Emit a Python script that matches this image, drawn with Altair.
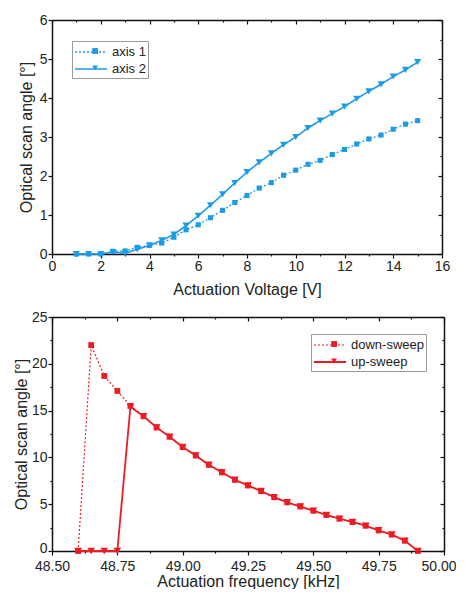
import altair as alt
import pandas as pd

# ---------------- data ----------------
voltage = [1, 1.5, 2, 2.5, 3, 3.5, 4, 4.5, 5, 5.5, 6, 6.5, 7, 7.5, 8, 8.5, 9, 9.5,
           10, 10.5, 11, 11.5, 12, 12.5, 13, 13.5, 14, 14.5, 15]
axis1 = [0.0, 0.0, 0.0, 0.07, 0.08, 0.17, 0.22, 0.28, 0.43, 0.62, 0.75, 0.93, 1.12,
         1.32, 1.50, 1.69, 1.83, 2.02, 2.15, 2.30, 2.40, 2.55, 2.68, 2.82, 2.95,
         3.05, 3.20, 3.33, 3.42]
axis2 = [0.0, 0.0, 0.0, 0.05, 0.02, 0.12, 0.22, 0.35, 0.50, 0.73, 0.98, 1.25, 1.53,
         1.82, 2.10, 2.35, 2.58, 2.80, 3.00, 3.23, 3.42, 3.60, 3.78, 3.98, 4.17,
         4.35, 4.55, 4.72, 4.92]

freq_down = [48.60, 48.65, 48.70, 48.75, 48.80, 48.85, 48.90, 48.95, 49.00, 49.05,
             49.10, 49.15, 49.20, 49.25, 49.30, 49.35, 49.40, 49.45, 49.50, 49.55,
             49.60, 49.65, 49.70, 49.75, 49.80, 49.85, 49.90]
down_sweep = [0.0, 22.0, 18.7, 17.1, 15.5, 14.4, 13.2, 12.2, 11.1, 10.2, 9.2, 8.4,
              7.6, 7.0, 6.4, 5.75, 5.2, 4.75, 4.3, 3.85, 3.45, 3.1, 2.7, 2.2, 1.75,
              1.1, 0.0]
freq_up = [48.60, 48.65, 48.70, 48.75, 48.80, 48.85, 48.90, 48.95, 49.00, 49.05,
           49.10, 49.15, 49.20, 49.25, 49.30, 49.35, 49.40, 49.45, 49.50, 49.55,
           49.60, 49.65, 49.70, 49.75, 49.80, 49.85, 49.90]
up_sweep = [0.0, 0.0, 0.0, 0.0, 15.4, 14.4, 13.2, 12.2, 11.1, 10.2, 9.2, 8.4,
            7.6, 7.0, 6.4, 5.75, 5.2, 4.75, 4.3, 3.85, 3.45, 3.1, 2.7, 2.2, 1.75,
            1.1, 0.0]

top_series = ["axis 1", "axis 2"]
bot_series = ["down-sweep", "up-sweep"]

x1_ticks = [float(v) for v in range(0, 17)]
y1_ticks = [v * 0.5 for v in range(0, 13)]
x2_ticks = [48.5 + v * 0.125 for v in range(0, 13)]
y2_ticks = [v * 2.5 for v in range(0, 11)]

BLUE = "#1d9be6"
RED = "#ec1c24"
FONT = "Liberation Sans"


def make_df(xs_a, ys_a, xs_b, ys_b, names, xfield, msizes):
    df = pd.DataFrame({
        xfield: xs_a + xs_b,
        "angle": ys_a + ys_b,
        "series": [names[0]] * len(xs_a) + [names[1]] * len(xs_b),
    })
    df["marker"] = df["series"]
    df["msize"] = [msizes[0]] * len(xs_a) + [msizes[1]] * len(xs_b)
    return df


df1 = make_df(voltage, axis1, voltage, axis2, top_series, "voltage", [26, 50])
df2 = make_df(freq_down, down_sweep, freq_up, up_sweep, bot_series, "freq", [34, 58])


def major_minor(step):
    return f"abs(datum.value / {step} - round(datum.value / {step})) < 1e-6"


def axis_main(orient, title, ticks, step, fmt, title_pad, label_pad=1, last=None,
              zero_shift=0):
    extra = {}
    if last is not None:
        extra = dict(
            labelAlign={"condition": {"test": f"datum.value >= {last}", "value": "right"},
                        "value": "center"},
            labelOffset={"condition": {"test": f"datum.value >= {last}", "value": 12},
                         "value": 0},
        )
    elif zero_shift:
        extra = dict(
            labelOffset={"condition": {"test": "datum.value == 0", "value": zero_shift},
                         "value": 0},
        )
    return alt.Axis(
        orient=orient, title=title, values=ticks, format=fmt,
        labelExpr=f"{major_minor(step)} ? datum.label : ''",
        tickSize={"condition": {"test": major_minor(step), "value": 4}, "value": 2},
        tickColor="#111", tickWidth=1.2, domainColor="#111", domainWidth=1.5,
        labelFont=FONT, labelFontSize=14, labelColor="#222", labelPadding=label_pad,
        titleFont=FONT, titleFontSize=16, titleFontWeight="normal",
        titleColor="#222", titlePadding=title_pad, grid=False, labelFlush=False,
        labelOverlap=False, **extra,
    )


def axis_mirror(orient, ticks, step):
    return alt.Axis(
        orient=orient, title=None, values=ticks, labels=False,
        tickSize={"expr": f"{major_minor(step)} ? -4 : -2"},
        tickColor="#111", tickWidth=1.2, domainColor="#111", domainWidth=1.5,
        grid=False,
    )


def panel(df, xfield, xdomain, xticks, xstep, xfmt, xtitle, xpad, xlabpad, xlast,
          ydomain, yticks, ystep, ypad, yzero, color, line_w, legend_xy, label_size,
          w, h):
    xs = alt.Scale(domain=xdomain, nice=False, zero=False)
    ys = alt.Scale(domain=ydomain, nice=False)
    lines = alt.Chart(df).mark_line(color=color).encode(
        x=alt.X(f"{xfield}:Q", scale=xs,
                axis=axis_main("bottom", xtitle, xticks, xstep, xfmt, xpad, xlabpad,
                               xlast)),
        y=alt.Y("angle:Q", scale=ys,
                axis=axis_main("left", "Optical scan angle [°]", yticks, ystep, "d",
                               ypad, zero_shift=yzero)),
        strokeDash=alt.StrokeDash(
            "series:N",
            scale=alt.Scale(range=[[2, 2], [1, 0]]),
            legend=alt.Legend(
                title=None, orient="none", legendX=legend_xy[0], legendY=legend_xy[1],
                symbolType="M-2,0H2", symbolSize=256, symbolStrokeColor=color,
                symbolStrokeWidth=1.5, symbolOffset=8, labelOffset=12,
                labelFont=FONT, labelFontSize=label_size, labelColor="#222",
                strokeColor="#9a9a9a", fillColor="white", padding=2,
                rowPadding=1, cornerRadius=0,
            ),
        ),
        strokeWidth=alt.StrokeWidth("series:N", scale=alt.Scale(range=line_w),
                                    legend=None),
    )
    points = alt.Chart(df).mark_point(filled=True, color=color, opacity=1).encode(
        x=alt.X(f"{xfield}:Q", scale=xs, axis=axis_mirror("top", xticks, xstep)),
        y=alt.Y("angle:Q", scale=ys, axis=axis_mirror("right", yticks, ystep)),
        shape=alt.Shape(
            "marker:N",
            scale=alt.Scale(range=["square", "triangle-down"]),
            legend=alt.Legend(
                title=None, orient="none", legendX=legend_xy[0], legendY=legend_xy[1],
                symbolSize=34, symbolFillColor=color, symbolStrokeWidth=0,
                symbolOffset=16 - 34 ** 0.5 / 2, labelFontSize=16, labelExpr="''",
                padding=2, rowPadding=1, zindex=2,
            ),
        ),
        size=alt.Size("msize:Q", scale=None, legend=None),
    )
    return alt.layer(lines, points).properties(width=w, height=h)


top = panel(df1, "voltage", [0, 16], x1_ticks, 2, "d", "Actuation Voltage [V]", 8, 1,
            None, [0, 6], y1_ticks, 1, 5, 0, BLUE, [1.3, 1.6], (20, 21), 13, 390, 234)
bottom = panel(df2, "freq", [48.5, 50.0], x2_ticks, 0.25, ".2f",
               "Actuation frequency [kHz]", 0, 4, 49.99, [0, 25], y2_ticks, 5, 2, -3,
               RED, [1.2, 1.8], (259, 17), 13, 392, 234)

chart = alt.vconcat(top, bottom, spacing=13).resolve_scale(
    strokeDash="independent", shape="independent", strokeWidth="independent"
).resolve_legend(
    strokeDash="independent", shape="independent", strokeWidth="independent"
).configure_view(
    stroke=None
).properties(padding={"left": 5, "top": 5, "right": 0, "bottom": 0})

chart.save("out.html", embed_options={"renderer": "svg", "actions": False})
